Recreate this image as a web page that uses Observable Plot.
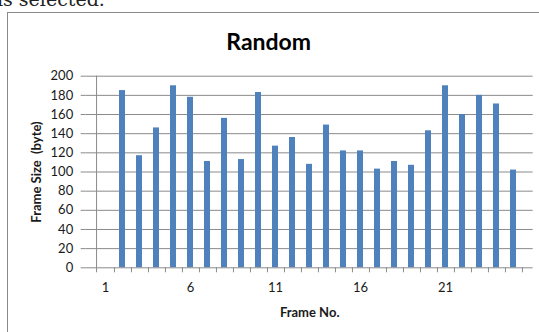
<!DOCTYPE html>
<html>
<head>
<meta charset="utf-8">
<script src="https://cdn.jsdelivr.net/npm/d3@7"></script>
<script src="https://cdn.jsdelivr.net/npm/@observablehq/plot@0.6"></script>
<style>
  html, body { margin: 0; padding: 0; background: #fff; overflow: hidden; }
  #wrap { position: relative; width: 539px; height: 332px; overflow: hidden; }
  #doc { position: absolute; left: -3px; top: -12px; font-family: "DejaVu Serif", serif; font-size: 19px; line-height: 22px; color: #222; white-space: nowrap; }
  #box { position: absolute; left: 7px; top: 12px; width: 540px; height: 330px; border-top: 1.5px solid #8a8a8a; border-left: 1.5px solid #8a8a8a; }
  #chart { position: absolute; left: 0; top: 0; }
</style>
</head>
<body>
<div id="wrap">
  <div id="doc">is selected.</div>
  <div id="box"></div>
  <div id="chart"></div>
</div>
<script>
const title = "Random";
const xLabel = "Frame No.";
const yLabel = "Frame Size  (byte)";
const frames = [1,2,3,4,5,6,7,8,9,10,11,12,13,14,15,16,17,18,19,20,21,22,23,24,25];
const sizes = [null,185,117,146,190,178,111,156,113,183,127,136,108,149,122,122,103,111,107,143,190,160,180,171,102];
const xTickLabels = [1,6,11,16,21];
const yTicks = [0,20,40,60,80,100,120,140,160,180,200];

const data = frames.map((f, i) => ({frame: f, size: sizes[i]}));

const W = 539, H = 332;
const mL = 85.7, mR = 6.3, mT = 75.7, mB = 64.7;
const step = (W - mL - mR) / frames.length;
const font = "Lato, 'Open Sans', sans-serif";
const gray = "#8a8a8a";

const chart = Plot.plot({
  width: W,
  height: H,
  marginLeft: mL,
  marginRight: mR,
  marginTop: mT,
  marginBottom: mB,
  style: {background: "transparent", fontFamily: font},
  x: {type: "band", domain: frames, paddingInner: 0.62, paddingOuter: 0.31, align: 0.5, axis: null},
  y: {domain: [0, 200], axis: null},
  marks: [
    Plot.gridY(yTicks.slice(1), {stroke: gray, strokeOpacity: 1, strokeWidth: 1}),
    Plot.barY(data.filter(d => d.size != null), {x: "frame", y: "size", fill: "#4F81BD"}),
    Plot.ruleY([0], {stroke: gray, strokeWidth: 1}),
    Plot.ruleX([frames[0]], {dx: -step / 2, stroke: gray, strokeWidth: 1}),
    Plot.axisY(yTicks, {anchor: "left", tickSize: 5, tickPadding: 8, stroke: gray, fontSize: 13, fill: "#1a1a1a", fontFamily: font, label: null}),
    Plot.axisX(frames, {anchor: "bottom", tickSize: 5, text: null, dx: step / 2, stroke: gray, label: null}),
    Plot.axisX([frames[0]], {anchor: "bottom", tickSize: 5, text: null, dx: -step / 2, stroke: gray, label: null}),
    Plot.axisX(xTickLabels, {anchor: "bottom", tickSize: 0, tickPadding: 15, fontSize: 13, fill: "#1a1a1a", fontFamily: font, label: null}),
    Plot.text([title], {frameAnchor: "top", dx: -41, dy: -43, fontSize: 23, fontWeight: "bold", fontFamily: font, fill: "#000"}),
    Plot.text([xLabel], {frameAnchor: "bottom", dy: 49, fontSize: 13, fontWeight: "bold", fontFamily: font, fill: "#1a1a1a"}),
    Plot.text([yLabel], {frameAnchor: "left", dx: -49, rotate: -90, textAnchor: "middle", fontSize: 13, fontWeight: "bold", fontFamily: font, fill: "#1a1a1a"})
  ]
});
document.getElementById("chart").appendChild(chart);
</script>
</body>
</html>
